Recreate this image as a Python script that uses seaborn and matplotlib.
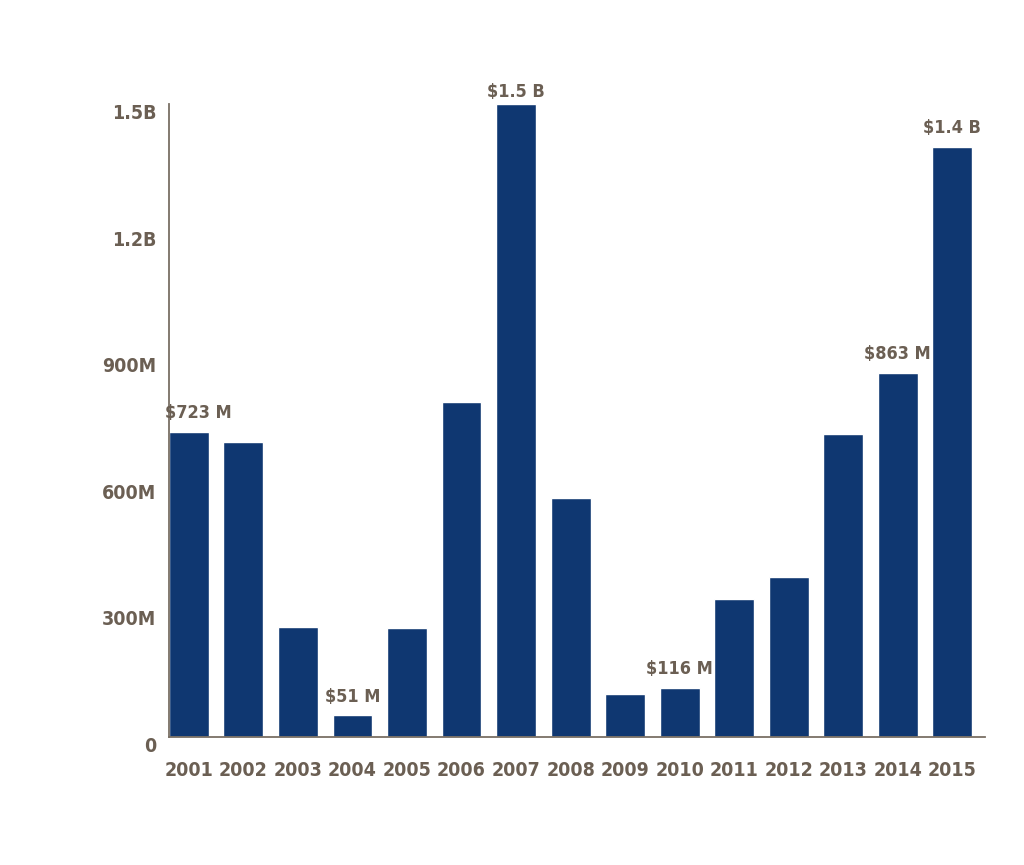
import pandas as pd
import seaborn as sns
from matplotlib import pyplot as plt
from matplotlib import transforms

years = ['2001', '2002', '2003', '2004', '2005', '2006', '2007', '2008',
         '2009', '2010', '2011', '2012', '2013', '2014', '2015']
# values in millions of dollars
amounts = [723, 699, 261, 51, 257, 793, 1500, 567,
           103, 116, 328, 378, 718, 863, 1398]
callouts = {'2001': '$723 M', '2004': '$51 M', '2007': '$1.5 B',
            '2010': '$116 M', '2014': '$863 M', '2015': '$1.4 B'}
y_ticks = [0, 300, 600, 900, 1200, 1500]
y_tick_labels = ['0', '300M', '600M', '900M', '1.2B', '1.5B']

bar_color = '#0f3771'
text_color = '#6b5f53'
axis_color = '#7a7065'

sns.set_theme(style='white')
plt.rcParams['font.family'] = ['DejaVu Sans']
plt.rcParams['font.stretch'] = 'condensed'
plt.rcParams['font.weight'] = 'bold'

df = pd.DataFrame({'Year': years, 'Amount': amounts})

fig = plt.figure(figsize=(10.24, 8.65), dpi=100)
ax = fig.add_axes([0.165, 0.148, 0.797, 0.732])

sns.barplot(data=df, x='Year', y='Amount', color=bar_color, width=0.73,
            saturation=1, ax=ax)

ax.set_xlim(-0.365, 14.6)
ax.set_ylim(0, 1500)
ax.set_xlabel('')
ax.set_ylabel('')

ax.set_yticks(y_ticks)
ax.set_yticklabels(y_tick_labels)
ax.tick_params(axis='both', length=0, labelsize=14, labelcolor=text_color)
ax.tick_params(axis='x', pad=17)
ax.tick_params(axis='y', pad=9)

# nudge y tick labels a bit below their tick positions, as in the original
shift = transforms.ScaledTranslation(0, -5.5 / 72, fig.dpi_scale_trans)
for lbl in ax.get_yticklabels():
    lbl.set_transform(lbl.get_transform() + shift)

for side in ['top', 'right']:
    ax.spines[side].set_visible(False)
for side in ['left', 'bottom']:
    ax.spines[side].set_color(axis_color)
    ax.spines[side].set_linewidth(1.3)

# value callouts above selected bars
for i, (yr, val) in enumerate(zip(years, amounts)):
    if yr in callouts:
        dx = 6.5 if yr == '2001' else 0
        dy = 2 if yr == '2007' else 7
        ax.annotate(callouts[yr], xy=(i, val), xytext=(dx, dy),
                    textcoords='offset points', ha='center', va='bottom',
                    fontsize=13, fontweight='bold', color=text_color,
                    annotation_clip=False)

fig.savefig('out.png', dpi=100, facecolor='white')
